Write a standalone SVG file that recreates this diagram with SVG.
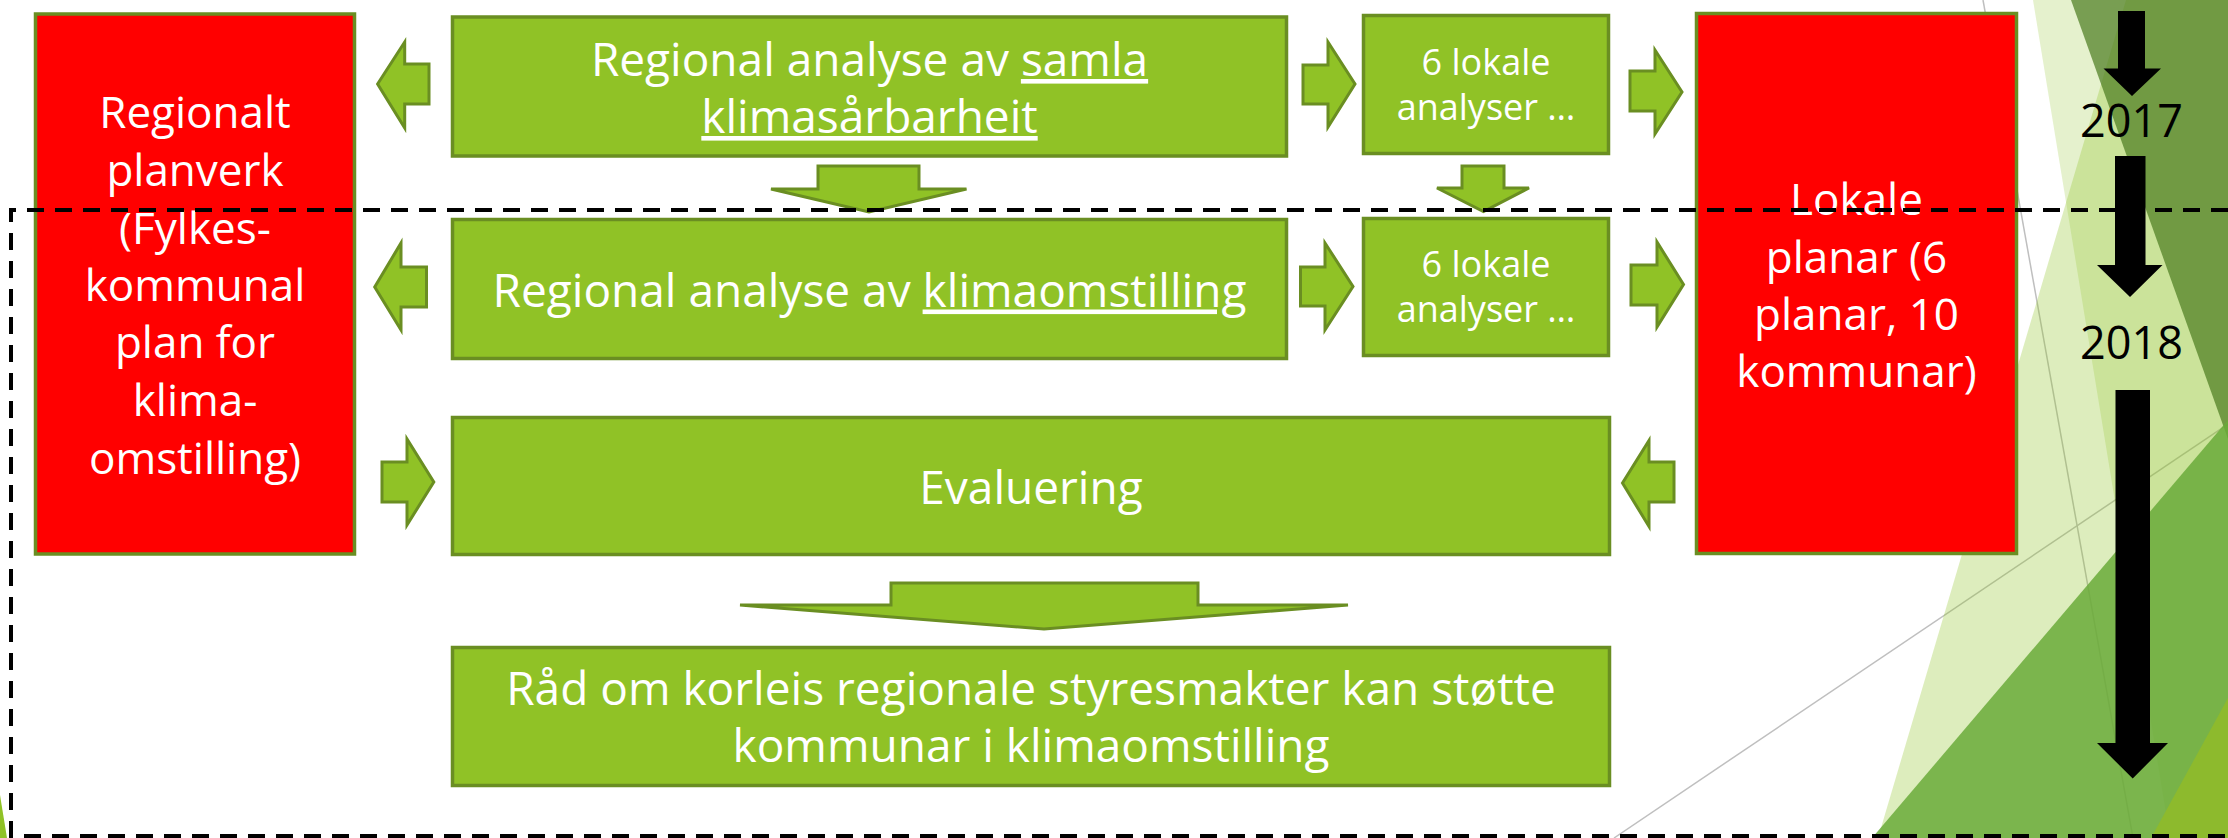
<svg xmlns="http://www.w3.org/2000/svg" width="2228" height="838" viewBox="0 0 2228 838">
<style>
.box{fill:#90C226;stroke:#6A8E22;stroke-width:3.5}
.red{fill:#FF0000;stroke:#6A8E22;stroke-width:3.5}
.arr{fill:#90C226;stroke:#6A8E22;stroke-width:3}
.tl{fill:#000}
.t{font-family:"Open Sans","Liberation Sans",sans-serif;fill:#FFFFFF;text-anchor:middle}
.s46{font-size:46px}
.s44{font-size:44px}
.s33{font-size:36px}
.yr{font-family:"Open Sans","Liberation Sans",sans-serif;fill:#000;font-size:45px;text-anchor:middle}
.u{text-decoration:underline}
.gl{stroke:#BFBFBF;stroke-width:1.5;fill:none}
</style>
<rect width="2228" height="838" fill="#FFFFFF"/>
<g id="background">
<line class="gl" x1="1983" y1="0" x2="2133" y2="838"/>
<line class="gl" x1="1614" y1="838" x2="2228" y2="424" stroke="#D0D0D0"/>
<polygon points="2033,0 2228,0 2228,838 2170,838" fill="#90C226" fill-opacity="0.23"/>
<polygon points="2126,0 2228,0 2228,838 1878,838" fill="#90C226" fill-opacity="0.3"/>
<polygon points="2071,0 2228,0 2228,439" fill="#4A7A1E" fill-opacity="0.7"/>
<polygon points="1872,838 2228,420 2228,838" fill="#6AAA3A" fill-opacity="0.85"/>
<polygon points="2151,838 2228,698 2228,838" fill="#8DBA2D"/>
<polygon points="0,795 7,838 0,838" fill="#90C226"/>
</g>
<g id="connectors">
<path class="arr" d="M377.6,84 L404.7,42 L404.7,64 L429,64 L429,104 L404.7,104 L404.7,128 Z"/>
<path class="arr" d="M374.7,287 L401,243 L401,267 L426.5,267 L426.5,307 L401,307 L401,330 Z"/>
<path class="arr" d="M382,462 L407,462 L407,439 L433.8,482 L407,525 L407,502 L382,502 Z"/>
<path class="arr" d="M1303,65 L1328,65 L1328,42 L1355,84 L1328,127 L1328,104 L1303,104 Z"/>
<path class="arr" d="M1300.5,267 L1325,267 L1325,243 L1353,286.5 L1325,330 L1325,306 L1300.5,306 Z"/>
<path class="arr" d="M1630,71 L1655,71 L1655,50 L1682,92 L1655,134 L1655,111 L1630,111 Z"/>
<path class="arr" d="M1631,265 L1657,265 L1657,242 L1683.5,284.5 L1657,327 L1657,305 L1631,305 Z"/>
<path class="arr" d="M1622.5,483 L1649,440.5 L1649,462 L1674,462 L1674,502 L1649,502 L1649,526.5 Z"/>
<path class="arr" d="M818,166 L919,166 L919,189 L966.5,189 L869,212 L771,189 L818,189 Z"/>
<path class="arr" d="M1462,166 L1504,166 L1504,188 L1529,188 L1483.5,211.5 L1437,188 L1462,188 Z"/>
<path class="arr" d="M891,583 L1198,583 L1198,605 L1348,605 L1044,629 L740,605 L891,605 Z"/>
</g>
<g id="regionalt-planverk">
<rect class="red" x="35.5" y="14" width="319" height="540"/>
<text class="t s44" x="195" y="128">Regionalt</text>
<text class="t s44" x="195" y="186">planverk</text>
<text class="t s44" x="195" y="244">(Fylkes-</text>
<text class="t s44" x="195" y="301">kommunal</text>
<text class="t s44" x="195" y="358">plan for</text>
<text class="t s44" x="195" y="416">klima-</text>
<text class="t s44" x="195" y="474">omstilling)</text>
</g>
<g id="analyse-samla">
<rect class="box" x="452.5" y="17" width="834" height="139"/>
<text class="t s46" x="869.5" y="76">Regional analyse av <tspan class="u">samla</tspan></text>
<text class="t s46" x="869.5" y="133"><tspan class="u">klimasårbarheit</tspan></text>
</g>
<g id="analyse-klimaomstilling">
<rect class="box" x="452.5" y="219.5" width="834" height="139"/>
<text class="t s46" x="869.5" y="306.5">Regional analyse av <tspan class="u">klimaomstilling</tspan></text>
</g>
<g id="lokale-analyser-1">
<rect class="box" x="1363.5" y="15.5" width="245" height="138"/>
<text class="t s33" x="1486" y="75">6 lokale</text>
<text class="t s33" x="1486" y="120">analyser …</text>
</g>
<g id="lokale-analyser-2">
<rect class="box" x="1363.5" y="218.5" width="245" height="137"/>
<text class="t s33" x="1486" y="276.5">6 lokale</text>
<text class="t s33" x="1486" y="321.5">analyser …</text>
</g>
<g id="lokale-planar">
<rect class="red" x="1696.5" y="13.5" width="320" height="540"/>
<text class="t s44" x="1856.5" y="215">Lokale</text>
<text class="t s44" x="1856.5" y="272.5">planar (6</text>
<text class="t s44" x="1856.5" y="330">planar, 10</text>
<text class="t s44" x="1856.5" y="387">kommunar)</text>
</g>
<g id="evaluering">
<rect class="box" x="452.5" y="417.5" width="1157" height="137"/>
<text class="t s46" x="1031" y="504">Evaluering</text>
</g>
<g id="raad">
<rect class="box" x="452.5" y="647.5" width="1157" height="138"/>
<text class="t s46" x="1031" y="705">Råd om korleis regionale styresmakter kan støtte</text>
<text class="t s46" x="1031" y="761.5">kommunar i klimaomstilling</text>
</g>
<g id="timeline">
<path class="tl" d="M2118,11 L2145,11 L2145,68.5 L2161,68.5 L2132,96 L2103.5,68.5 L2118,68.5 Z"/>
<path class="tl" d="M2115,156 L2145.5,156 L2145.5,265 L2162.5,265 L2130,297 L2097,265 L2115,265 Z"/>
<path class="tl" d="M2115.5,390 L2150,390 L2150,743 L2168,743 L2132.7,778.5 L2097,743 L2115.5,743 Z"/>
<text class="yr" x="2131.5" y="136.5">2017</text>
<text class="yr" x="2131.5" y="359">2018</text>
</g>
<g id="frame">
<path d="M2228,210 H11 V836 H2228" fill="none" stroke="#000" stroke-width="4" stroke-dasharray="17 11"/>
</g>
</svg>
